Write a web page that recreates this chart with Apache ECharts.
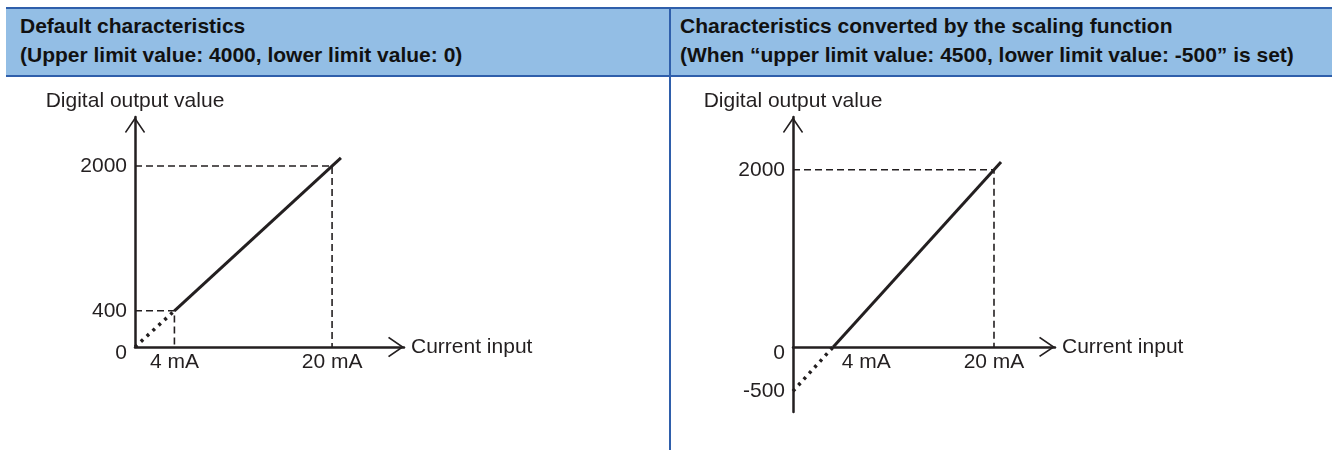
<!DOCTYPE html>
<html lang="en">
<head>
    <meta charset="UTF-8">
    <title>Scaling function characteristics</title>
    <script src="https://cdn.jsdelivr.net/npm/echarts@6/dist/echarts.min.js"></script>
    <style>
        body {
            margin: 0;
            background: #ffffff;
            font-family: "Liberation Sans", Arial, sans-serif;
        }
        #wrap {
            position: relative;
            width: 1332px;
            height: 450px;
            overflow: hidden;
        }
        #chart {
            position: absolute;
            left: 0;
            top: 0;
            width: 1332px;
            height: 450px;
        }
        .head {
            position: absolute;
            top: 7px;
            left: 6px;
            width: 1326px;
            height: 66px;
            background: #93bee5;
            border-top: 2px solid #2f5fab;
            border-bottom: 2px solid #2f5fab;
        }
        .cell {
            position: absolute;
            top: 2px;
            font-weight: bold;
            font-size: 21px;
            line-height: 29px;
            color: #111111;
            white-space: nowrap;
        }
        .divider {
            position: absolute;
            left: 669px;
            top: 7px;
            width: 2px;
            height: 443px;
            background: #2f5fab;
        }
    </style>
</head>
<body>
<div id="wrap">
    <div id="chart"></div>
    <div class="head">
        <div class="cell" style="left: 14px;">Default characteristics<br>(Upper limit value: 4000, lower limit value: 0)</div>
        <div class="cell" style="left: 674px;">Characteristics converted by the scaling function<br>(When “upper limit value: 4500, lower limit value: -500” is set)</div>
    </div>
    <div class="divider"></div>
</div>

<script>
    // 左图：默认特性 (current in mA, digital output value)
    var leftXTicks = [4, 20];
    var leftYTicks = [0, 400, 2000];
    var leftDotted = [[0, 0], [4, 400]];
    var leftSolid = [[4, 400], [20.9, 2090]];
    var leftGuides = [[4, 400], [20, 2000]];

    // 右图：缩放后的特性
    var rightXTicks = [4, 20];
    var rightYTicks = [-500, 0, 2000];
    var rightDotted = [[0, -500], [4, 0]];
    var rightSolid = [[4, 0], [20.7, 2087]];
    var rightGuides = [[20, 2000]];

    var ink = '#231f20';
    var font = '"Liberation Sans", Arial, sans-serif';
    var fs = 21;
    // open ">" style arrow head, pointing up before the axis rotates it
    var chevron = 'path://M19,0 L38,28 L35.8,30 L19,5.5 L2.2,30 L0,28 Z';

    var grids = [
        { left: 135, top: 117, width: 269, height: 230 },
        { left: 793, top: 117, width: 262, height: 295 }
    ];
    var yRange = [[0, 2541], [-735, 2596]];

    function axisLine() {
        return {
            show: true,
            onZero: false,
            symbol: ['none', chevron],
            symbolSize: [21, 16],
            symbolOffset: [0, -8],
            lineStyle: { color: ink, width: 2.5 }
        };
    }

    function xAxis(i, max, ticks, shiftFour) {
        // 把横轴移到 y = 0 的位置（标签跟着走）
        var r = yRange[i];
        var offset = -(0 - r[0]) / (r[1] - r[0]) * grids[i].height;
        return {
            type: 'value',
            gridIndex: i,
            min: 0,
            max: max,
            position: 'bottom',
            offset: offset,
            name: 'Current input',
            nameLocation: 'end',
            nameGap: 7,
            nameTextStyle: { color: ink, fontSize: fs, fontFamily: font },
            axisLine: axisLine(),
            axisTick: { show: false },
            splitLine: { show: false },
            axisLabel: {
                customValues: ticks,
                margin: 5,
                color: ink,
                fontSize: fs,
                fontFamily: font,
                formatter: function (v) {
                    if (shiftFour && v === 4) return '{sh|4 mA}';
                    return v + ' mA';
                },
                rich: {
                    sh: { padding: [0, 0, 0, 66], fontSize: fs, fontFamily: font, color: ink }
                }
            }
        };
    }

    function yAxis(i, ticks) {
        return {
            type: 'value',
            gridIndex: i,
            min: yRange[i][0],
            max: yRange[i][1],
            name: 'Digital output value',
            nameLocation: 'end',
            nameGap: 5,
            nameTextStyle: { color: ink, fontSize: fs, fontFamily: font },
            axisLine: axisLine(),
            axisTick: { show: false },
            splitLine: { show: false },
            axisLabel: {
                customValues: ticks,
                margin: 8,
                color: ink,
                fontSize: fs,
                fontFamily: font,
                formatter: function (v) {
                    return v === 0 ? '{low|0}' : String(v);
                },
                rich: {
                    low: { padding: [12, 0, 0, 0], fontSize: fs, fontFamily: font, color: ink }
                }
            }
        };
    }

    function lineSeries(idx, data, style) {
        return {
            type: 'line',
            xAxisIndex: idx,
            yAxisIndex: idx,
            data: data,
            symbol: 'none',
            silent: true,
            lineStyle: style,
            z: style.z || 2
        };
    }

    // 虚线辅助线：从坐标轴到特性点
    function guideSeries(idx, guides) {
        return guides.map(function (p) {
            return lineSeries(idx, [[0, p[1]], [p[0], p[1]], [p[0], 0]],
                { color: ink, width: 1.6, type: [7, 4] });
        });
    }

    var chart = echarts.init(document.getElementById('chart'));

    var option = {
        animation: false,
        backgroundColor: '#ffffff',
        grid: grids,
        xAxis: [
            xAxis(0, 27.3, leftXTicks, false),
            xAxis(1, 26.07, rightXTicks, true)
        ],
        yAxis: [
            yAxis(0, leftYTicks),
            yAxis(1, rightYTicks)
        ],
        series: [].concat(
            guideSeries(0, leftGuides),
            guideSeries(1, rightGuides),
            [
                lineSeries(0, leftDotted, { color: ink, width: 3.5, type: [3, 5], z: 3 }),
                lineSeries(0, leftSolid, { color: ink, width: 3, z: 3 }),
                lineSeries(1, rightDotted, { color: ink, width: 3.5, type: [3, 5], z: 3 }),
                lineSeries(1, rightSolid, { color: ink, width: 3, z: 3 })
            ]
        )
    };

    chart.setOption(option);
</script>
</body>
</html>
